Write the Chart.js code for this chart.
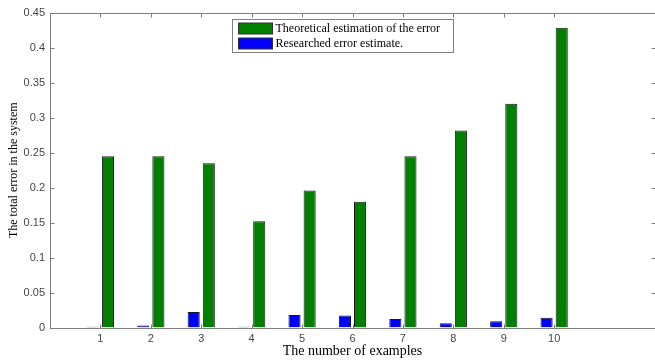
<!DOCTYPE html>
<html>
<head>
<meta charset="utf-8">
<script src="https://cdn.jsdelivr.net/npm/chart.js@4/dist/chart.umd.min.js"></script>
<style>
  html, body { margin: 0; padding: 0; background: #fff; overflow: hidden; width: 655px; height: 360px; }
  canvas { display: block; }
</style>
</head>
<body>
<canvas id="c" width="660" height="360"></canvas>
<script>
// Example numbers on the x axis
const categories = ['1', '2', '3', '4', '5', '6', '7', '8', '9', '10'];
// Theoretical estimation of the total error
const theoretical = [0.245, 0.245, 0.235, 0.152, 0.196, 0.180, 0.245, 0.282, 0.320, 0.429];
// Researched (measured) error estimate
const researched = [0.001, 0.003, 0.022, 0.001, 0.018, 0.017, 0.012, 0.006, 0.009, 0.014];
// Y axis tick values
const yTicks = [0, 0.05, 0.1, 0.15, 0.2, 0.25, 0.3, 0.35, 0.4, 0.45];

const seriesNames = ['Theoretical estimation of the error', 'Researched error estimate.'];

// Axis runs from 0 to 12: pad the category list with empty slots at both ends
const labels = [''].concat(categories, ['', '']);
const pad = arr => [null].concat(arr, [null, null]);

const AXIS_COLOR = '#7f7f7f';
const TICK_LEN = 4;

// Boxed axes with inward tick marks on all four sides
const framePlugin = {
  id: 'frame',
  afterDraw(chart) {
    const { ctx, chartArea: a } = chart;
    const xs = chart.scales.x, ys = chart.scales.y;
    ctx.save();
    ctx.strokeStyle = AXIS_COLOR;
    ctx.lineWidth = 1;
    const L = Math.round(a.left) + 0.5, R = Math.round(a.right) + 0.5;
    const T = Math.round(a.top) + 0.5, B = Math.round(a.bottom) + 0.5;
    ctx.strokeRect(L, T, R - L, B - T);
    ctx.beginPath();
    categories.forEach((c, i) => {
      const px = Math.round(xs.getPixelForValue(i + 1)) + 0.5;
      ctx.moveTo(px, B); ctx.lineTo(px, B - TICK_LEN);
      ctx.moveTo(px, T); ctx.lineTo(px, T + TICK_LEN);
    });
    yTicks.forEach(v => {
      const py = Math.round(ys.getPixelForValue(v)) + 0.5;
      ctx.moveTo(L, py); ctx.lineTo(L + TICK_LEN, py);
      ctx.moveTo(R, py); ctx.lineTo(R - TICK_LEN, py);
    });
    ctx.stroke();
    ctx.restore();
  }
};

// Legend box in the upper middle of the plot, theoretical series listed first
const legendPlugin = {
  id: 'boxLegend',
  afterDraw(chart) {
    const { ctx } = chart;
    const bx = 232.5, by = 19.5, bw = 221, bh = 33;
    const entries = [chart.data.datasets[1], chart.data.datasets[0]];
    ctx.save();
    ctx.fillStyle = '#ffffff';
    ctx.fillRect(bx, by, bw, bh);
    ctx.strokeStyle = AXIS_COLOR;
    ctx.lineWidth = 1;
    ctx.strokeRect(bx, by, bw, bh);
    ctx.font = '12px "Liberation Serif", "Times New Roman", serif';
    ctx.textBaseline = 'middle';
    ctx.textAlign = 'left';
    entries.forEach((ds, i) => {
      const sy = by + 3.5 + i * 15;
      ctx.fillStyle = ds.backgroundColor;
      ctx.fillRect(bx + 6, sy, 34, 11);
      ctx.strokeStyle = '#333';
      ctx.strokeRect(bx + 6, sy, 34, 11);
      ctx.fillStyle = '#000';
      ctx.fillText(ds.label, bx + 43, sy + 6);
    });
    ctx.restore();
  }
};

new Chart(document.getElementById('c'), {
  type: 'bar',
  data: {
    labels: labels,
    datasets: [
      {
        label: seriesNames[1],
        data: pad(researched),
        backgroundColor: '#0000ff',
        borderColor: '#1a1a1a',
        borderWidth: 1
      },
      {
        label: seriesNames[0],
        data: pad(theoretical),
        backgroundColor: '#007f00',
        borderColor: '#1a1a1a',
        borderWidth: 1
      }
    ]
  },
  options: {
    responsive: false,
    animation: false,
    devicePixelRatio: 1,
    layout: { padding: { top: 13, right: 3, left: 0, bottom: 0 } },
    datasets: { bar: { categoryPercentage: 0.6, barPercentage: 0.8 } },
    plugins: {
      legend: { display: false },
      tooltip: { enabled: false }
    },
    scales: {
      x: {
        offset: false,
        grid: { display: false, drawTicks: false },
        border: { display: false },
        ticks: {
          color: '#444',
          font: { family: '"Liberation Sans", Arial, sans-serif', size: 11 },
          padding: 5,
          autoSkip: false,
          maxRotation: 0
        },
        title: {
          display: true,
          text: 'The number of examples',
          color: '#000',
          font: { family: '"Liberation Serif", "Times New Roman", serif', size: 14 },
          padding: { top: 0, bottom: 0 }
        },
        afterFit(scale) { scale.height = 32.5; }
      },
      y: {
        min: 0,
        max: 0.45,
        grid: { display: false, drawTicks: false },
        border: { display: false },
        afterBuildTicks(scale) { scale.ticks = yTicks.map(v => ({ value: v })); },
        ticks: {
          color: '#444',
          font: { family: '"Liberation Sans", Arial, sans-serif', size: 11 },
          padding: 5,
          callback: v => String(Number(v.toFixed(2)))
        },
        title: {
          display: true,
          text: 'The total error in the system',
          color: '#000',
          font: { family: '"Liberation Serif", "Times New Roman", serif', size: 12 },
          padding: { top: 7, bottom: 0 }
        },
        afterFit(scale) { scale.width = 50; }
      }
    }
  },
  plugins: [framePlugin, legendPlugin]
});
</script>
</body>
</html>
